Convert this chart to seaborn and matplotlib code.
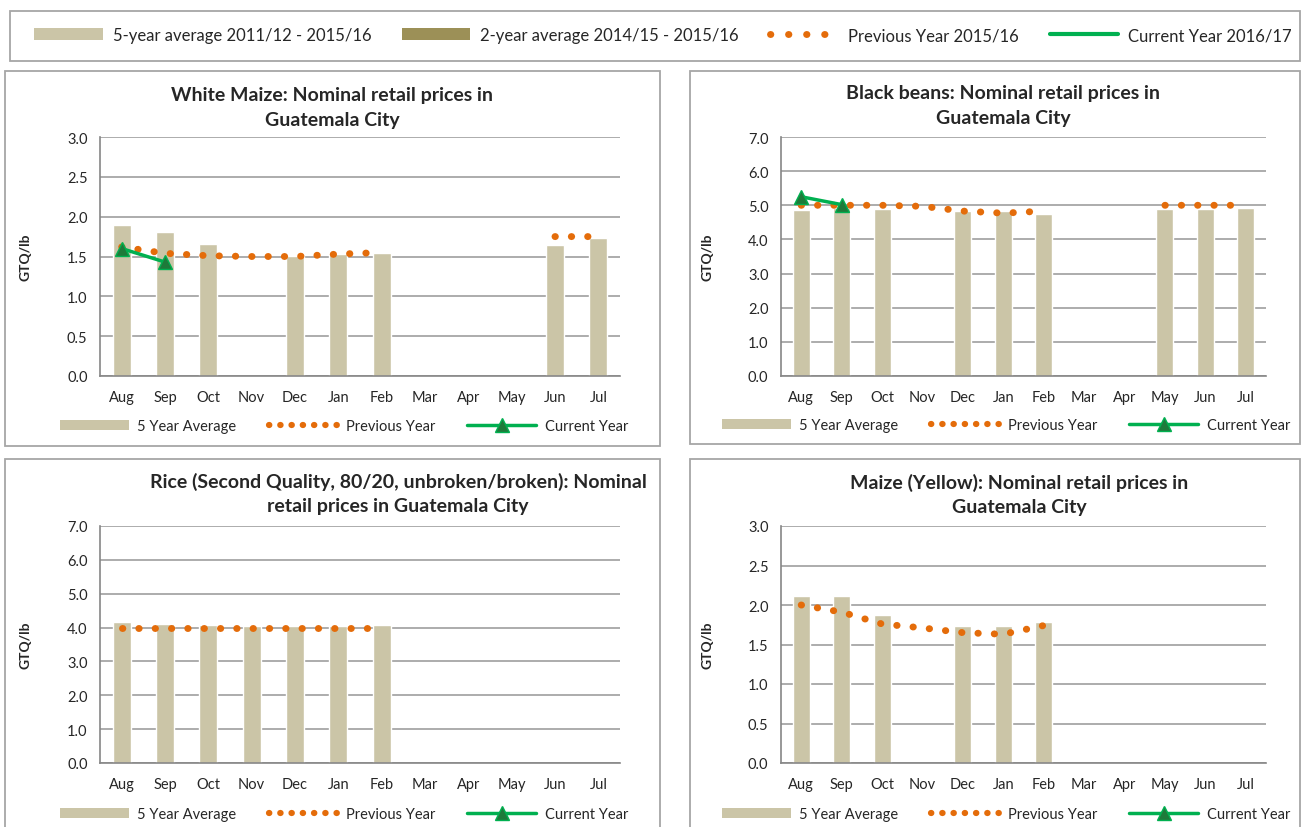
import matplotlib.pyplot as plt
import matplotlib.ticker as mtick
from matplotlib.lines import Line2D
from matplotlib.patches import Patch, Rectangle
import numpy as np
import pandas as pd
import seaborn as sns

sns.set_style('white')
plt.rcParams['font.family'] = ['Lato', 'DejaVu Sans']

nan = np.nan
months = ['Aug', 'Sep', 'Oct', 'Nov', 'Dec', 'Jan', 'Feb', 'Mar', 'Apr', 'May', 'Jun', 'Jul']

white_avg5 = [1.90, 1.81, 1.66, nan, 1.51, 1.53, 1.55, nan, nan, nan, 1.65, 1.73]
white_prev = [1.62, 1.54, 1.51, 1.50, 1.50, 1.53, 1.55, nan, nan, nan, 1.75, 1.75]
white_curr = [1.60, 1.43, nan, nan, nan, nan, nan, nan, nan, nan, nan, nan]

beans_avg5 = [4.87, 4.93, 4.90, nan, 4.82, 4.83, 4.75, nan, nan, 4.90, 4.90, 4.93]
beans_prev = [5.00, 5.00, 5.00, 4.97, 4.83, 4.77, 4.83, nan, nan, 5.00, 5.00, 5.00]
beans_curr = [5.25, 5.02, nan, nan, nan, nan, nan, nan, nan, nan, nan, nan]

rice_avg5 = [4.15, 4.12, 4.08, 4.05, 4.05, 4.05, 4.08, nan, nan, nan, nan, nan]
rice_prev = [4.00, 4.00, 4.00, 4.00, 4.00, 4.00, 4.00, nan, nan, nan, nan, nan]
rice_curr = [nan] * 12

yellow_avg5 = [2.12, 2.11, 1.87, nan, 1.73, 1.73, 1.78, nan, nan, nan, nan, nan]
yellow_prev = [2.00, 1.91, 1.76, 1.71, 1.65, 1.63, 1.74, nan, nan, nan, nan, nan]
yellow_curr = [nan] * 12

BAR = '#CBC5A7'
BAR2 = '#9C9057'
ORANGE = '#E46C0A'
GREEN = '#00B050'
GRID = '#A6A6A6'
DOTS = (0, (0.05, 2.3))
LEG_DOTS = (0, (0.05, 1.75))
TOP_DOTS = (0, (0.05, 2.55))
W, H = 1301, 828

fig = plt.figure(figsize=(W / 100, H / 100), dpi=100)
fig.set_facecolor('white')


def rect(l, r, t, b):
    return [l / W, 1 - b / H, (r - l) / W, (b - t) / H]


def box(l, t, r, b):
    fig.patches.append(Rectangle((l / W, 1 - b / H), (r - l) / W, (b - t) / H,
                                 transform=fig.transFigure, fill=False,
                                 edgecolor='#A6A6A6', lw=1.3))


def panel(pos, title, tpos, avg5, prev, curr, ymax, step, ylab_x, leg_pos):
    ax = fig.add_axes(rect(*pos))
    df = pd.DataFrame({'month': months, 'avg5': avg5})
    sns.barplot(data=df, x='month', y='avg5', order=months, color=BAR,
                width=0.42, errorbar=None, saturation=1, ax=ax, zorder=2)
    x = np.arange(len(months))
    ax.plot(x, prev, color=ORANGE, lw=5, linestyle=DOTS,
            dash_capstyle='round', zorder=3)
    ax.plot(x, curr, color=GREEN, lw=2.5, marker='^', ms=10,
            mfc='#1E7A3A', mec=GREEN, zorder=4)
    ax.set_xlim(-0.5, 11.5)
    ax.set_ylim(0, ymax)
    ax.set_yticks(np.arange(0, ymax + step / 2, step))
    ax.yaxis.set_major_formatter(mtick.FormatStrFormatter('%.1f'))
    ax.yaxis.grid(True, color=GRID, lw=1.3)
    ax.set_axisbelow(True)
    ax.set_xticks(np.arange(-0.5, 12, 1), minor=True)
    ax.tick_params(axis='x', which='major', length=0, pad=10, labelsize=10.5)
    ax.tick_params(axis='x', which='minor', length=5, color='#868686', width=1.2)
    ax.tick_params(axis='y', length=5, color='#868686', width=1.2, labelsize=10.5, pad=4)
    for s in ['top', 'right']:
        ax.spines[s].set_visible(False)
    for s in ['left', 'bottom']:
        ax.spines[s].set_color('#868686')
        ax.spines[s].set_linewidth(1.2)
    ax.set_xlabel('')
    ax.set_ylabel('GTQ/lb', fontweight='bold', fontsize=10)
    ax.yaxis.set_label_coords((ylab_x - pos[0]) / (pos[1] - pos[0]), 0.5)
    fig.text(tpos[0] / W, 1 - tpos[1] / H, title, ha='center', va='center',
             fontsize=14, fontweight='bold', linespacing=1.55)
    handles = [Patch(facecolor=BAR, edgecolor='none'),
               Line2D([], [], color=ORANGE, lw=4.5, linestyle=LEG_DOTS,
                      dash_capstyle='round'),
               Line2D([], [], color=GREEN, lw=2.5, marker='^', ms=10,
                      mfc='#1E7A3A', mec=GREEN)]
    fig.legend(handles, ['5 Year Average', 'Previous Year', 'Current Year'],
               loc='center', bbox_to_anchor=(leg_pos[0] / W, 1 - leg_pos[1] / H),
               ncol=3, frameon=False, fontsize=10.5, handlelength=4.7,
               handletextpad=0.6, columnspacing=2.2)
    return ax


box(5, 72, 660, 447)
box(690, 72, 1300, 445)
box(5, 460, 660, 840)
box(690, 460, 1300, 840)
box(10, 12, 1300, 62)

panel((100, 620, 138, 377), 'White Maize: Nominal retail prices in\nGuatemala City',
      (332, 108), white_avg5, white_prev, white_curr, 3.0, 0.5, 32, (344, 427))
panel((781, 1266, 138, 377), 'Black beans: Nominal retail prices in\nGuatemala City',
      (1003, 106), beans_avg5, beans_prev, beans_curr, 7.0, 1.0, 714, (1006, 426))
panel((100, 620, 527, 764),
      'Rice (Second Quality, 80/20, unbroken/broken): Nominal\nretail prices in Guatemala City',
      (398, 494), rice_avg5, rice_prev, rice_curr, 7.0, 1.0, 32, (344, 815))
panel((781, 1266, 527, 764), 'Maize (Yellow): Nominal retail prices in\nGuatemala City',
      (1019, 495), yellow_avg5, yellow_prev, yellow_curr, 3.0, 0.5, 714, (1006, 815))

top_handles = [Patch(facecolor=BAR, edgecolor='none'),
               Patch(facecolor=BAR2, edgecolor='none'),
               Line2D([], [], color=ORANGE, lw=5, linestyle=TOP_DOTS,
                      dash_capstyle='round'),
               Line2D([], [], color=GREEN, lw=3)]
top_labels = ['5-year average 2011/12 - 2015/16', '2-year average 2014/15 - 2015/16',
              'Previous Year 2015/16', 'Current Year 2016/17']
fig.legend(top_handles, top_labels, loc='center', bbox_to_anchor=(663 / W, 1 - 36 / H),
           ncol=4, frameon=False, fontsize=12, handlelength=4.1,
           handletextpad=0.6, columnspacing=1.85)

plt.savefig('out.png', dpi=100)
